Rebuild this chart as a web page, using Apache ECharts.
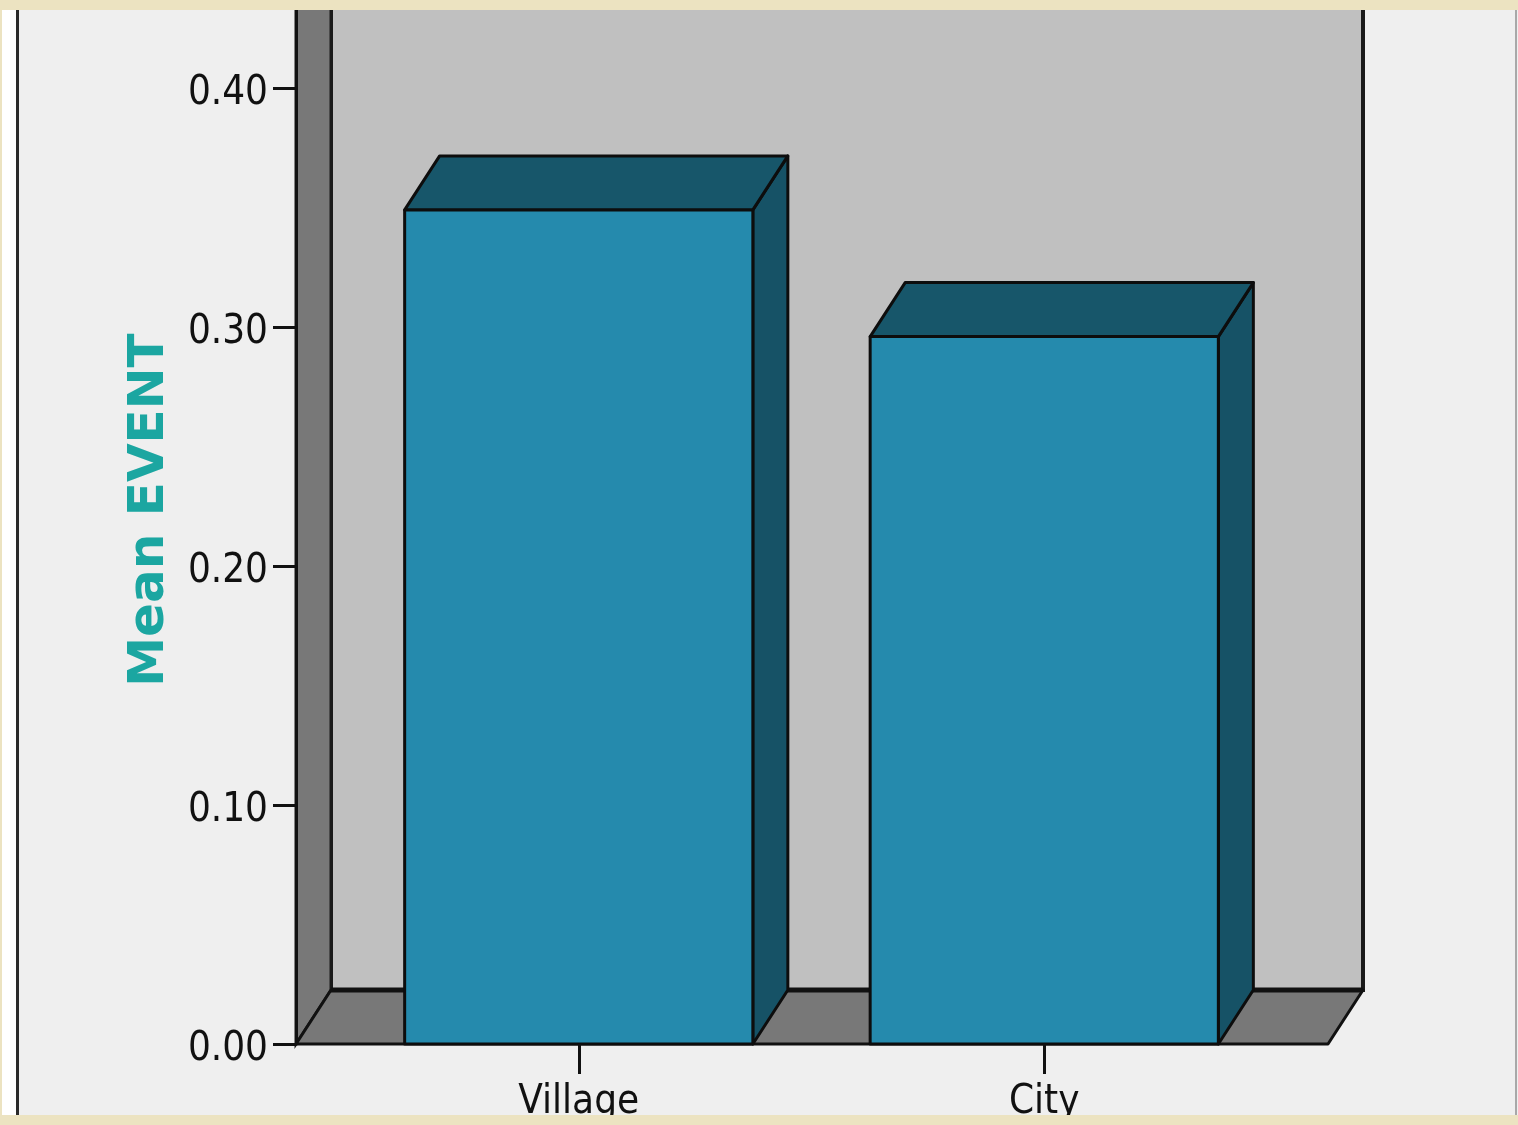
<!DOCTYPE html>
<html>
<head>
<meta charset="utf-8">
<script src="https://cdn.jsdelivr.net/npm/echarts@6/dist/echarts.min.js"></script>
<style>
  html, body { margin: 0; padding: 0; background: #ece3c1; }
  #chart { width: 1518px; height: 1125px; }
</style>
</head>
<body>
<div id="chart"></div>
<script>
// data
const categories = ['Village', 'City'];
const meanEvent = [0.349, 0.296];
const yTicks = [0, 0.1, 0.2, 0.3, 0.4];

// 3d look: depth offset of the back plane, and how far the front frame sticks out past the bands
const DX = 35, DY = -54;
const FRAME_PAD = 50;
const BAR_RATIO = 0.748;

const labelFont = "'Liberation Sans Narrow', 'DejaVu Sans Condensed', 'Liberation Sans', sans-serif";

const chart = echarts.init(document.getElementById('chart'));

function renderFrame(params, api) {
  const cs = params.coordSys;
  const y0 = api.coord([0, 0])[1];
  const left = cs.x - FRAME_PAD;
  const right = cs.x + cs.width + FRAME_PAD + 1;
  const top = cs.y - 20;
  return {
    type: 'group',
    children: [
      { // back wall
        type: 'rect',
        shape: { x: left + DX, y: top, width: right - left, height: y0 + DY - top },
        style: { fill: '#c0c0c0', stroke: '#1a1a1a', lineWidth: 4 }
      },
      { // left wall
        type: 'polygon',
        shape: { points: [[left, y0], [left + DX, y0 + DY], [left + DX, top], [left, top]] },
        style: { fill: '#787878', stroke: '#1a1a1a', lineWidth: 3 }
      },
      { // floor
        type: 'polygon',
        shape: { points: [[left, y0], [right, y0], [right + DX, y0 + DY], [left + DX, y0 + DY]] },
        style: { fill: '#787878', stroke: '#111', lineWidth: 3, lineJoin: 'round' }
      },
      { // thick back edge of the floor
        type: 'line',
        shape: { x1: left + DX, y1: y0 + DY, x2: right + DX, y2: y0 + DY },
        style: { stroke: '#111', lineWidth: 5 }
      }
    ]
  };
}

function renderBar(params, api) {
  const c = api.coord([api.value(0), api.value(1)]);
  const base = api.coord([api.value(0), 0]);
  const w = api.size([1, 0])[0] * BAR_RATIO;
  const x0 = c[0] - w / 2, x1 = c[0] + w / 2;
  const yt = c[1], yb = base[1];
  const edge = { stroke: '#0d0d0d', lineWidth: 3, lineJoin: 'round' };
  return {
    type: 'group',
    children: [
      {
        type: 'polygon',
        shape: { points: [[x1, yt], [x1 + DX, yt + DY], [x1 + DX, yb + DY], [x1, yb]] },
        style: Object.assign({ fill: '#165266' }, edge)
      },
      {
        type: 'polygon',
        shape: { points: [[x0, yt], [x1, yt], [x1 + DX, yt + DY], [x0 + DX, yt + DY]] },
        style: Object.assign({ fill: '#17566a' }, edge)
      },
      {
        type: 'rect',
        shape: { x: x0, y: yt, width: w, height: yb - yt },
        style: Object.assign({ fill: '#258aad' }, edge)
      }
    ]
  };
}

const option = {
  backgroundColor: '#ece3c1',
  animation: false,
  graphic: [
    { type: 'rect', z: -10, shape: { x: 0, y: 0, width: 1518, height: 1125 }, style: { fill: '#efefef' } },
    { type: 'rect', z: -9, shape: { x: 0, y: 0, width: 16, height: 1125 }, style: { fill: '#ffffff' } },
    { type: 'rect', z: -9, shape: { x: 16, y: 0, width: 3, height: 1125 }, style: { fill: '#2a2a2a' } },
    { type: 'rect', z: -9, shape: { x: 1515, y: 0, width: 2, height: 1125 }, style: { fill: '#a8a8a8' } },
    // parchment strips that crop the picture at top and bottom
    { type: 'rect', z: 100, shape: { x: 0, y: 0, width: 1518, height: 10 }, style: { fill: '#ece3c1' } },
    { type: 'rect', z: 100, shape: { x: 0, y: 1115, width: 1518, height: 10 }, style: { fill: '#ece3c1' } },
    { type: 'rect', z: 100, shape: { x: 0, y: 0, width: 2, height: 1125 }, style: { fill: '#ece3c1' } }
  ],
  grid: { left: 346, right: 241, top: 0, bottom: 81, containLabel: false },
  xAxis: {
    type: 'category',
    data: categories,
    axisLine: { show: false },
    axisTick: { show: true, alignWithLabel: true, length: 30, lineStyle: { color: '#111', width: 3 } },
    axisLabel: { margin: 39, color: '#111', fontSize: 40, fontFamily: labelFont },
    z: 10
  },
  yAxis: {
    type: 'value',
    min: 0,
    max: 1044 / 2390,
    interval: 0.1,
    offset: FRAME_PAD,
    name: 'Mean EVENT',
    nameLocation: 'middle',
    nameGap: 121,
    nameTextStyle: { color: '#1ba6a1', fontSize: 50, fontWeight: 'bold', fontFamily: "'DejaVu Sans', sans-serif", padding: [0, 0, 0, 24] },
    axisLine: { show: true, lineStyle: { color: '#111', width: 3 } },
    axisTick: { show: true, length: 23, lineStyle: { color: '#111', width: 3 } },
    axisLabel: {
      margin: 28, color: '#111', fontSize: 40, fontFamily: labelFont,
      verticalAlign: 'top', lineHeight: 12,
      showMaxLabel: false,
      formatter: v => yTicks.indexOf(Math.round(v * 10) / 10) >= 0 ? v.toFixed(2) : ''
    },
    splitLine: { show: false },
    z: 10
  },
  series: [
    {
      type: 'custom',
      name: 'frame',
      renderItem: renderFrame,
      data: [[0, 0]],
      encode: { x: 0, y: 1 },
      clip: false,
      silent: true,
      z: 1
    },
    {
      type: 'custom',
      name: 'Mean EVENT',
      renderItem: renderBar,
      data: categories.map((c, i) => [i, meanEvent[i]]),
      encode: { x: 0, y: 1 },
      clip: false,
      z: 5
    }
  ]
};

chart.setOption(option);
</script>
</body>
</html>
